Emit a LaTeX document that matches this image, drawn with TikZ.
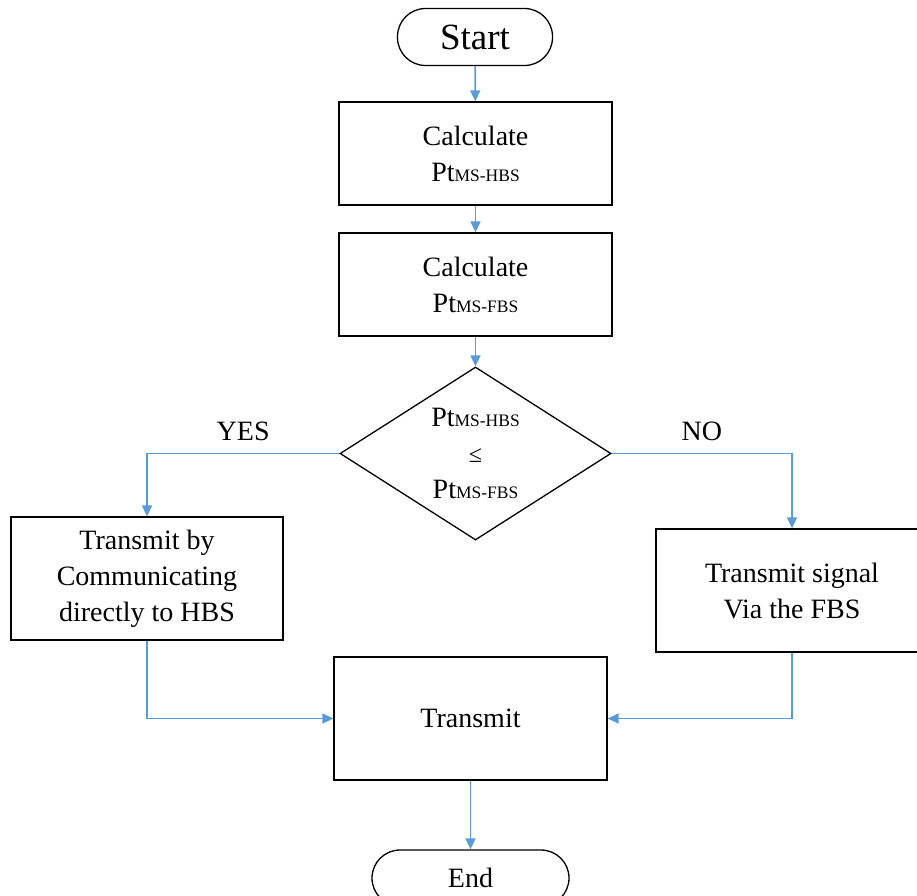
\documentclass[tikz,border=0pt]{standalone}
\usepackage{fontspec}
\setmainfont{Liberation Serif}
\usepackage{tikz}
\usetikzlibrary{arrows.meta}
\usetikzlibrary{positioning, shapes.geometric}
\definecolor{flowblue}{RGB}{91,155,213}
\newcommand{\ptms}[1]{Pt{\fontsize{17.5}{17.5}\selectfont MS-#1}}

\begin{document}
\begin{tikzpicture}[x=1pt,y=1pt,
    every node/.style={font=\fontsize{28}{36}\selectfont, align=center},
    terminal/.style={draw, line width=1.3pt, rounded corners=28pt, inner sep=0pt},
    process/.style={draw, line width=1.3pt, minimum width=273pt, minimum height=103pt, inner sep=0pt},
    decision/.style={draw, diamond, aspect=1.57, line width=1.3pt, minimum width=271pt, minimum height=173pt, inner sep=0pt},
    flow/.style={draw=flowblue, line width=1.7pt, -{Triangle[length=11pt,width=10pt]}},
    branch/.style={inner sep=2pt}]
\useasboundingbox (0,0) rectangle (917,-895);
        % boxes
        \node[terminal, minimum width=155pt, minimum height=57pt, font=\fontsize{37}{40}\selectfont] (start) at (475,-37) {Start};
        \node[process] (calchbs) at (475.5,-153.5) {Calculate\\\ptms{HBS}};
        \node[process] (calcfbs) at (475.5,-284.5) {Calculate\\\ptms{FBS}};
        \node[decision] (cmp) at (475.5,-453.5) {\ptms{HBS}\\{\fontsize{24}{36}\selectfont ≤}\\\ptms{FBS}};
        \node[process, minimum width=272pt, minimum height=123pt] (yesbox) at (147,-578.5) {Transmit by\\Communicating\\directly to HBS};
        \node[process, minimum width=272pt, minimum height=123pt] (nobox) at (792,-590.5) {Transmit signal\\Via the FBS};
        \node[process, minimum height=123pt] (tx) at (470.5,-718.5) {Transmit};
        \node[terminal, minimum width=197pt, minimum height=56pt] (fin) at (470.5,-878) {End};
        % connectors
        \draw[flow] (start) -- (calchbs);
        \draw[flow] (calchbs) -- (calcfbs);
        \draw[flow] (calcfbs) -- (cmp);
        \draw[flow] (cmp.west) -| (yesbox.north) node[branch, pos=0.25, above=10pt] {YES};
        \draw[flow] (cmp.east) -| (nobox.north) node[branch, pos=0.25, above=10pt] {NO};
        \draw[flow] (yesbox.south) |- (tx.west);
        \draw[flow] (nobox.south) |- (tx.east);
        \draw[flow] (tx.south -| fin.north) -- (fin.north);
\end{tikzpicture}
\end{document}
